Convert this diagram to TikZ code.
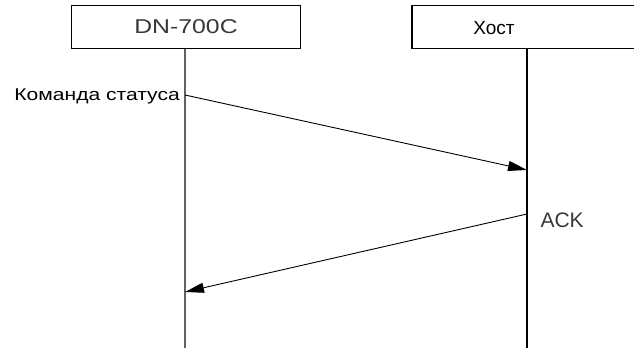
\documentclass[tikz,border=0pt]{standalone}
\usepackage{fontspec}
\setmainfont{Liberation Sans}
\newfontfamily\widefont[FakeStretch=1.24]{Liberation Sans}
\usetikzlibrary{positioning,arrows.meta}

\begin{document}
\begin{tikzpicture}[x=1pt, y=-1pt,
  hdr/.style={draw=black, line width=1.1pt, minimum width=229pt, minimum height=43pt, inner sep=0pt},
  thin/.style={font=\widefont\fontsize{20}{22}\selectfont, text=black!78},
  lifeline/.style={line width=1.2pt},
  msg/.style={line width=0.9pt, -{Triangle[length=19pt, width=10pt]}},
  lbl/.style={font=\widefont\fontsize{17}{19}\selectfont, inner sep=1pt}
]
\useasboundingbox (0,0) rectangle (634,348);

\node[hdr, thin] (dn) at (186,27) {DN-700C};
\node[hdr, minimum width=230pt] (host) at (527,27) {};
\node[font=\fontsize{19}{21}\selectfont] (hosttxt) at (494,28) {Хост};

\coordinate (dnbot) at (185,348);
\coordinate (hostbot) at (527,348);
\draw[lifeline, draw=black!62] (dn.south -| dnbot) -- (dnbot);
\draw[lifeline] (host.south) -- (hostbot);

% messages
\coordinate (c1) at (185,95);
\coordinate (h1) at (527,170);
\coordinate (h2) at (527,214);
\coordinate (c2) at (185,292);
\draw[msg] (c1) -- (h1);
\draw[msg] (h2) -- (c2);

\node[lbl, anchor=east] (cmd) at (181,96) {Команда статуса};
\node[font=\fontsize{21}{23}\selectfont, text=black!78, anchor=west] (ack) at (537,220) {ACK};

\end{tikzpicture}
\end{document}
